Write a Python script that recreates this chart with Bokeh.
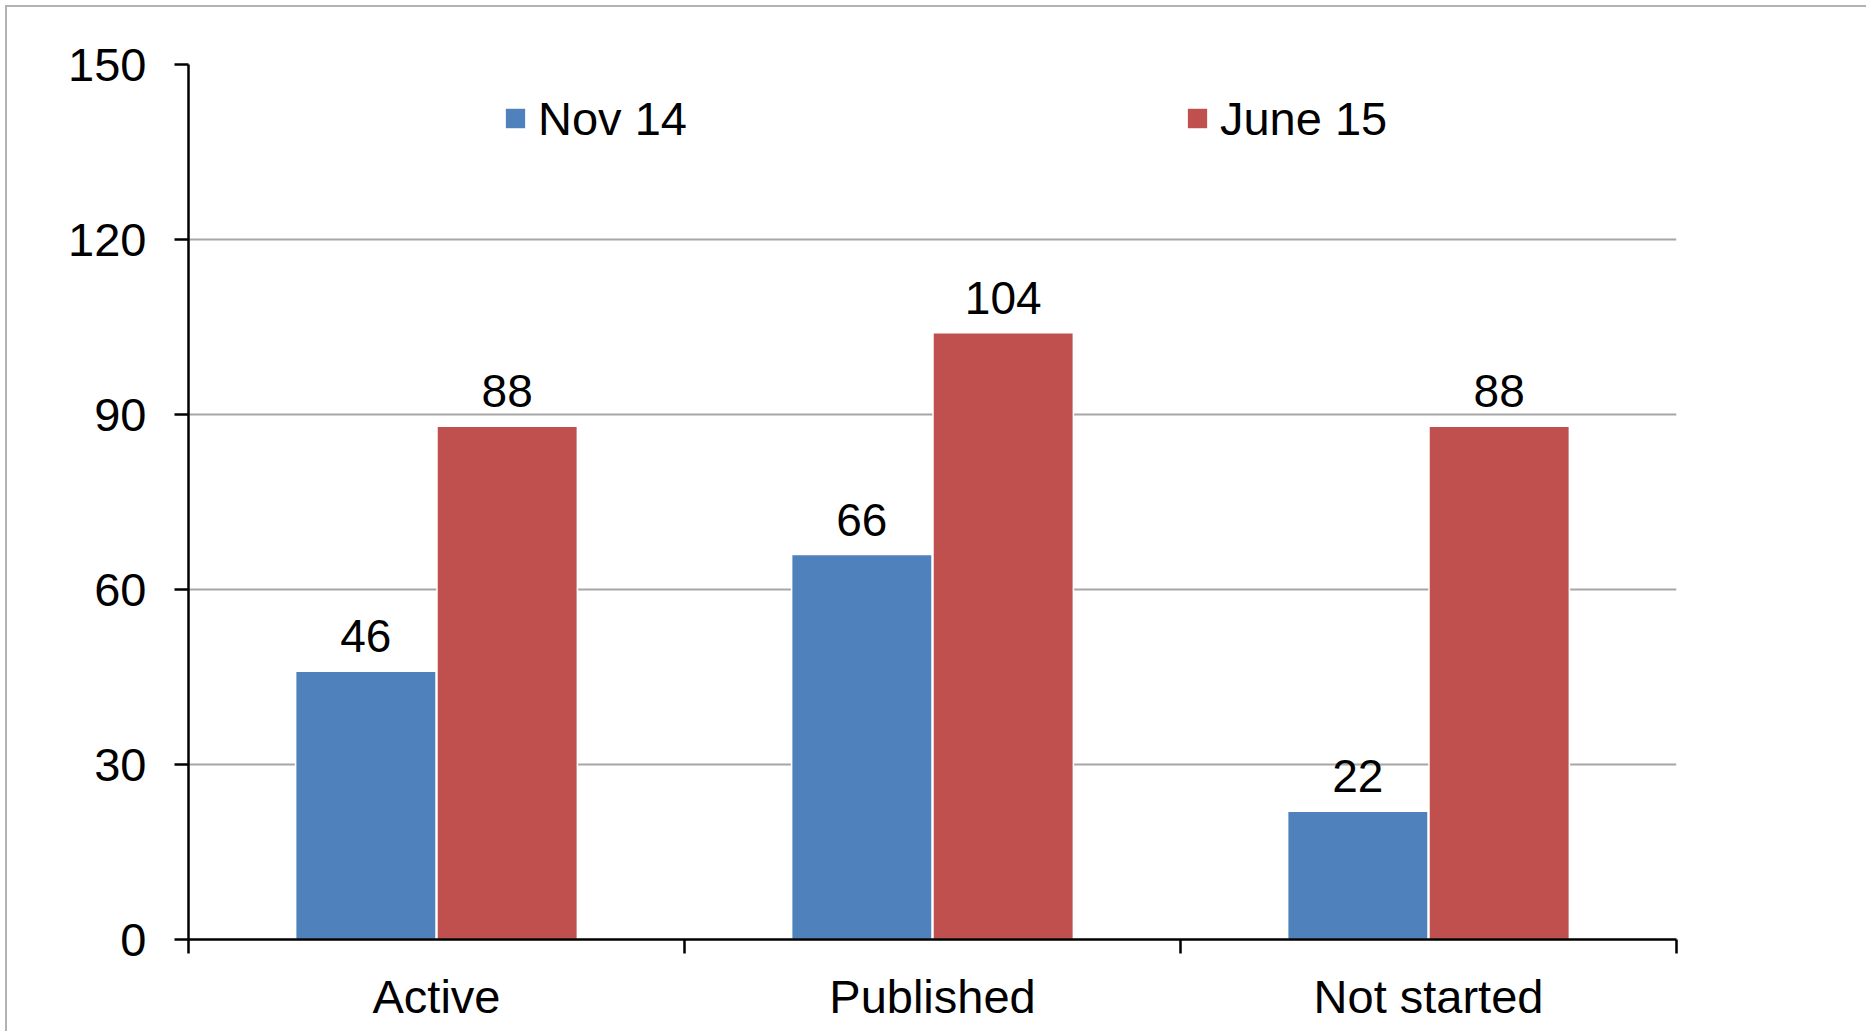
import numpy as np
from bokeh.plotting import figure
from bokeh.models import Range1d, FixedTicker, Legend, LegendItem, LabelSet, ColumnDataSource
from bokeh.core.properties import value
from bokeh.embed import file_html
from bokeh.resources import INLINE

categories = ["Active", "Published", "Not started"]
nov14 = [46, 66, 22]
june15 = [88, 104, 88]
series_names = ["Nov 14", "June 15"]
y_ticks = [0, 30, 60, 90, 120, 150]

FONT = "Liberation Sans"
BLUE = "#4F81BD"
RED = "#C0504D"

idx = np.arange(len(categories))
centers = idx + 0.5
bar_w = 0.283
off = 0.1425

p = figure(
    x_range=Range1d(0, len(categories)), y_range=Range1d(0, 150),
    frame_width=1488, frame_height=875,
    min_border_left=188, min_border_right=190, min_border_top=64, min_border_bottom=92,
    output_backend="svg", toolbar_location=None,
)
p.outline_line_color = None
p.background_fill_color = "white"
p.border_fill_color = None
# outer chart-area border: only top and left edges visible in the reference
p.styles = {"box-shadow": "inset 5px 5px 0 0 #ffffff, inset 7px 7px 0 0 #b3b3b3"}

src1 = ColumnDataSource(dict(x=centers - off, top=nov14, label=[str(v) for v in nov14]))
src2 = ColumnDataSource(dict(x=centers + off, top=june15, label=[str(v) for v in june15]))

r1 = p.vbar(x="x", top="top", width=bar_w, source=src1, fill_color=BLUE, line_color="white", line_width=1.5)
r2 = p.vbar(x="x", top="top", width=bar_w, source=src2, fill_color=RED, line_color="white", line_width=1.5)

for s in (src1, src2):
    p.add_layout(LabelSet(x="x", y="top", text="label", source=s, text_align="center",
                          text_baseline="alphabetic", y_offset=19,
                          text_font_size=value("46px"), text_font=value(FONT),
                          text_color="black"))

xa = p.xaxis[0]
xa.ticker = FixedTicker(ticks=list(centers), minor_ticks=list(range(len(categories) + 1)))
xa.major_label_overrides = {float(c): cat for c, cat in zip(centers, categories)}
xa.major_tick_line_color = None
xa.major_tick_out = 14
xa.major_tick_in = 0
xa.minor_tick_out = 14
xa.minor_tick_in = 0
xa.minor_tick_line_color = "black"
xa.minor_tick_line_width = 2.5
xa.axis_line_color = "black"
xa.axis_line_width = 2.5
xa.major_label_text_font = FONT
xa.major_label_text_font_size = "47px"
xa.major_label_text_color = "black"
xa.major_label_standoff = 16

ya = p.yaxis[0]
ya.ticker = FixedTicker(ticks=y_ticks, minor_ticks=[])
ya.major_tick_out = 14
ya.major_tick_in = 0
ya.major_tick_line_color = "black"
ya.major_tick_line_width = 2.5
ya.minor_tick_line_color = None
ya.axis_line_color = "black"
ya.axis_line_width = 2.5
ya.major_label_text_font = FONT
ya.major_label_text_font_size = "47px"
ya.major_label_text_color = "black"
ya.major_label_standoff = 28

p.xgrid.visible = False
p.ygrid.grid_line_color = "#a6a6a6"
p.ygrid.grid_line_width = 2

legend = Legend(
    items=[LegendItem(label=series_names[0], renderers=[r1]),
           LegendItem(label=series_names[1], renderers=[r2])],
    orientation="horizontal", location=(314, 793),
    glyph_width=26, glyph_height=26, label_standoff=10, spacing=497,
    padding=0, margin=0, border_line_color=None, background_fill_alpha=0,
    label_text_font=FONT, label_text_font_size="47px", label_text_color="black",
    label_height=56,
)
p.add_layout(legend)

open("out.html", "w").write(file_html(p, INLINE))
